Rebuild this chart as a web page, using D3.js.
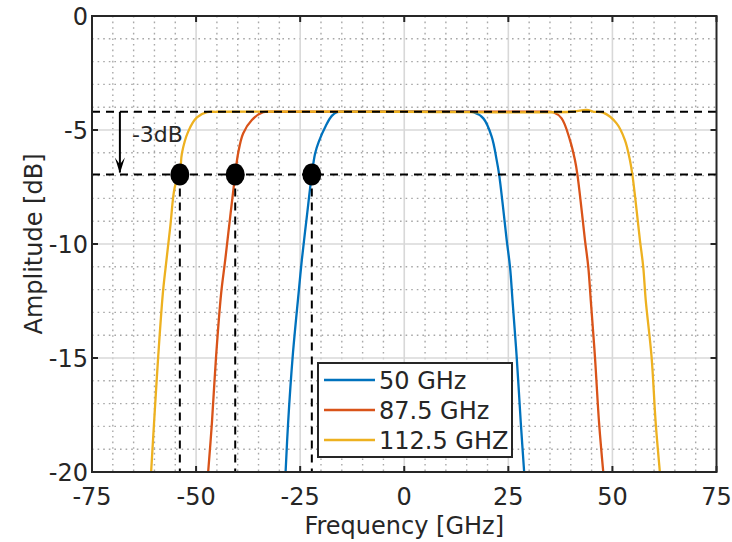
<!DOCTYPE html>
<html><head><meta charset="utf-8">
<script src="https://cdn.jsdelivr.net/npm/d3@7"></script>
<style>body{margin:0;background:#fff;} text{font-family:"DejaVu Sans",sans-serif;fill:#262626;}</style>
</head><body><svg id="c" width="732" height="542"></svg>
<script>
const seriesNames = ["50 GHz", "87.5 GHz", "112.5 GHZ"];
const seriesColors = ["#0072BD", "#D95319", "#EDB120"];
const s50 = [[-28.5,-20],[-27.9,-17.86],[-26.8,-14.94],[-25.4,-12.2],[-24.6,-10.7],[-23.4,-8.8],[-22.2,-6.95],[-21.4,-6.02],[-20.5,-5.5],[-18.8,-4.8],[-17.4,-4.38],[-16.2,-4.22],[-14,-4.2],[0,-4.2],[14,-4.2],[16.6,-4.22],[19.0,-4.49],[21.0,-5.29],[22.2,-6.32],[22.8,-6.97],[23.8,-8.5],[24.6,-9.82],[25.4,-11.0],[26.0,-12.46],[27.0,-14.94],[28.0,-17.86],[28.8,-20]];
const s875 = [[-47.1,-20],[-46.2,-17.86],[-45.2,-14.94],[-44.0,-12.2],[-43.0,-10.7],[-41.8,-8.8],[-40.6,-6.95],[-39.9,-6.02],[-38.7,-5.15],[-36.6,-4.56],[-33.9,-4.22],[-31,-4.2],[0,-4.2],[33,-4.2],[35.8,-4.22],[37.8,-4.49],[39.8,-5.44],[41.0,-6.32],[41.6,-6.97],[42.6,-8.5],[43.4,-9.82],[44.2,-11.0],[44.8,-12.46],[45.8,-14.94],[46.8,-17.86],[47.8,-20]];
const s1125 = [[-60.8,-20],[-60.1,-17.86],[-59.1,-14.94],[-58.0,-12.2],[-57.3,-11.0],[-56.2,-9.24],[-55.1,-7.49],[-53.9,-6.9],[-53.4,-6.02],[-51.9,-5.07],[-49.8,-4.45],[-47.4,-4.22],[-45,-4.2],[0,-4.2],[40,-4.2],[43.8,-4.12],[45.5,-4.2],[47.8,-4.24],[51.0,-4.71],[53.0,-5.44],[54.2,-6.32],[54.8,-6.97],[55.8,-8.5],[56.6,-9.82],[57.4,-11.0],[58.0,-12.46],[59.4,-14.94],[60.4,-17.86],[61.4,-20]];
const xTicks = [-75,-50,-25,0,25,50,75];
const yTicks = [0,-5,-10,-15,-20];
const passLevel = -4.2;
const cutLevel = -6.95;
const dotFreqs = [-53.9,-40.6,-22.2];
const arrowFreq = -68.3;
const annotation = "-3dB";

const svg = d3.select("#c");
const L=92, R=716.5, T=16, B=472;
const FS = 24;
const x = d3.scaleLinear().domain([-75,75]).range([L,R]);
const y = d3.scaleLinear().domain([-20,0]).range([B,T]);
const g = svg.append("g");
svg.append("defs").append("clipPath").attr("id","clip").append("rect").attr("x",L).attr("y",T).attr("width",R-L).attr("height",B-T);

// minor grid
const xMinor = d3.range(-70,75,5).filter(v=>v%25!==0);
const yMinor = d3.range(-19,0,1).filter(v=>v%5!==0);
g.selectAll(".xm").data(xMinor).join("line").attr("x1",d=>x(d)).attr("x2",d=>x(d)).attr("y1",T).attr("y2",B)
 .attr("stroke","#a8a8a8").attr("stroke-width",1.4).attr("stroke-dasharray","1.6,4");
g.selectAll(".ym").data(yMinor).join("line").attr("y1",d=>y(d)).attr("y2",d=>y(d)).attr("x1",L).attr("x2",R)
 .attr("stroke","#a8a8a8").attr("stroke-width",1.4).attr("stroke-dasharray","1.6,4");
// major grid
g.selectAll(".xM").data(xTicks.slice(1,-1)).join("line").attr("x1",d=>x(d)).attr("x2",d=>x(d)).attr("y1",T).attr("y2",B)
 .attr("stroke","#d8d8d8").attr("stroke-width",1.6);
g.selectAll(".yM").data(yTicks.slice(1,-1)).join("line").attr("y1",d=>y(d)).attr("y2",d=>y(d)).attr("x1",L).attr("x2",R)
 .attr("stroke","#d8d8d8").attr("stroke-width",1.6);

// curves
const line = d3.line().x(d=>x(d[0])).y(d=>y(d[1])).curve(d3.curveCatmullRom.alpha(0.5));
const cg = svg.append("g").attr("clip-path","url(#clip)");
[s50,s875,s1125].forEach((s,i)=>{
  cg.append("path").datum(s).attr("d",line).attr("fill","none").attr("stroke",seriesColors[i]).attr("stroke-width",2.3);
});

// dashed annotation lines
const dash = "8,6";
[passLevel,cutLevel].forEach(v=>{
  cg.append("line").attr("x1",L).attr("x2",R).attr("y1",y(v)).attr("y2",y(v))
    .attr("stroke","#000").attr("stroke-width",2).attr("stroke-dasharray",dash);
});
dotFreqs.forEach(f=>{
  cg.append("line").attr("x1",x(f)).attr("x2",x(f)).attr("y1",y(cutLevel)).attr("y2",B)
    .attr("stroke","#000").attr("stroke-width",2).attr("stroke-dasharray",dash);
});
dotFreqs.forEach(f=>{
  svg.append("ellipse").attr("cx",x(f)).attr("cy",y(cutLevel)).attr("rx",9.5).attr("ry",11).attr("fill","#000");
});

// arrow
const ax = x(arrowFreq);
svg.append("line").attr("x1",ax).attr("x2",ax).attr("y1",y(passLevel)).attr("y2",y(cutLevel)-2).attr("stroke","#000").attr("stroke-width",2);
svg.append("path").attr("d",`M${ax-5},${y(cutLevel)-17} L${ax},${y(cutLevel)-1} L${ax+5},${y(cutLevel)-17} L${ax},${y(cutLevel)-10} Z`).attr("fill","#000");
svg.append("text").attr("x",ax+12).attr("y",y(passLevel)+30).attr("font-size",22).text(annotation);

// axes box
svg.append("rect").attr("x",L).attr("y",T).attr("width",R-L).attr("height",B-T).attr("fill","none").attr("stroke","#262626").attr("stroke-width",2);
const tl=6;
xTicks.forEach(v=>{
  svg.append("line").attr("x1",x(v)).attr("x2",x(v)).attr("y1",B).attr("y2",B-tl).attr("stroke","#262626").attr("stroke-width",2);
  svg.append("line").attr("x1",x(v)).attr("x2",x(v)).attr("y1",T).attr("y2",T+tl).attr("stroke","#262626").attr("stroke-width",2);
  svg.append("text").attr("x",x(v)).attr("y",B+33).attr("text-anchor","middle").attr("font-size",FS).text(v);
});
yTicks.forEach(v=>{
  svg.append("line").attr("x1",L).attr("x2",L+tl).attr("y1",y(v)).attr("y2",y(v)).attr("stroke","#262626").attr("stroke-width",2);
  svg.append("line").attr("x1",R).attr("x2",R-tl).attr("y1",y(v)).attr("y2",y(v)).attr("stroke","#262626").attr("stroke-width",2);
  svg.append("text").attr("x",L-4).attr("y",y(v)+8.5).attr("text-anchor","end").attr("font-size",FS).text(v);
});
svg.append("text").attr("x",(L+R)/2).attr("y",534).attr("text-anchor","middle").attr("font-size",FS).text("Frequency [GHz]");
svg.append("text").attr("transform",`translate(42,${(T+B)/2}) rotate(-90)`).attr("text-anchor","middle").attr("font-size",FS).text("Amplitude [dB]");

// legend
const lg = svg.append("g");
lg.append("rect").attr("x",318).attr("y",363).attr("width",194).attr("height",94).attr("fill","#fff").attr("stroke","#262626").attr("stroke-width",2);
seriesNames.forEach((n,i)=>{
  const yy = 380 + i*30;
  lg.append("line").attr("x1",324).attr("x2",375).attr("y1",yy).attr("y2",yy).attr("stroke",seriesColors[i]).attr("stroke-width",2.3);
  lg.append("text").attr("x",379).attr("y",yy+8.5).attr("font-size",FS).text(n);
});
</script></body></html>
